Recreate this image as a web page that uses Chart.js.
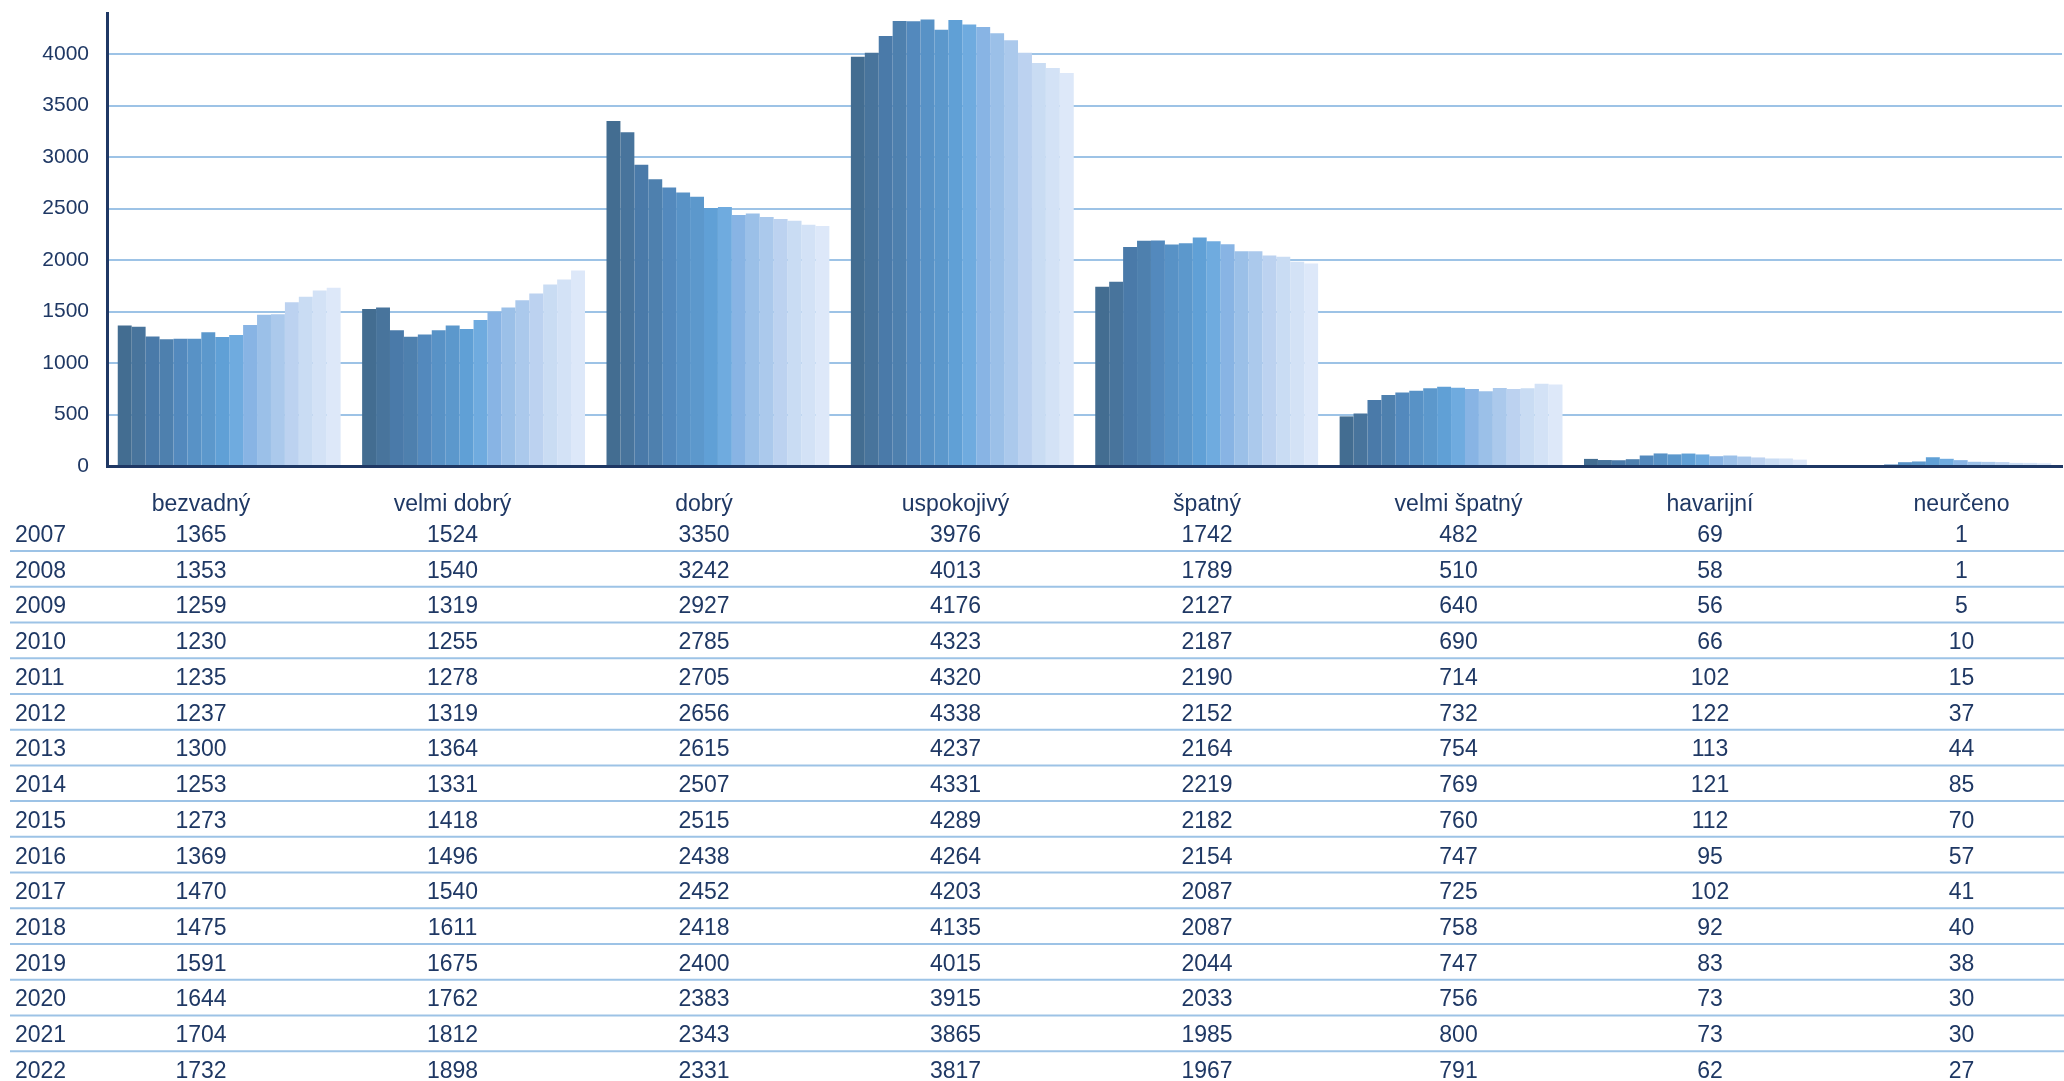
<!DOCTYPE html>
<html lang="cs">
<head>
<meta charset="utf-8">
<title>Stav mostů 2007–2022</title>
<script src="https://cdn.jsdelivr.net/npm/chart.js@4.4.1/dist/chart.umd.min.js"></script>
<style>
    html, body { margin: 0; padding: 0; background: #fff; overflow: hidden; }
    #wrap { position: relative; width: 2064px; height: 1081px; }
</style>
</head>
<body>
<div id="wrap"><canvas id="stavChart"></canvas></div>
<script>
        // kategorie stavu
        const categories = ['bezvadný', 'velmi dobrý', 'dobrý', 'uspokojivý', 'špatný', 'velmi špatný', 'havarijní', 'neurčeno'];
        const years = ['2007', '2008', '2009', '2010', '2011', '2012', '2013', '2014', '2015', '2016', '2017', '2018', '2019', '2020', '2021', '2022'];
        const yTicks = [0, 500, 1000, 1500, 2000, 2500, 3000, 3500, 4000];

        // hodnoty po kategoriich, roky 2007..2022
        const bezvadny = [1365, 1353, 1259, 1230, 1235, 1237, 1300, 1253, 1273, 1369, 1470, 1475, 1591, 1644, 1704, 1732];
        const velmiDobry = [1524, 1540, 1319, 1255, 1278, 1319, 1364, 1331, 1418, 1496, 1540, 1611, 1675, 1762, 1812, 1898];
        const dobry = [3350, 3242, 2927, 2785, 2705, 2656, 2615, 2507, 2515, 2438, 2452, 2418, 2400, 2383, 2343, 2331];
        const uspokojivy = [3976, 4013, 4176, 4323, 4320, 4338, 4237, 4331, 4289, 4264, 4203, 4135, 4015, 3915, 3865, 3817];
        const spatny = [1742, 1789, 2127, 2187, 2190, 2152, 2164, 2219, 2182, 2154, 2087, 2087, 2044, 2033, 1985, 1967];
        const velmiSpatny = [482, 510, 640, 690, 714, 732, 754, 769, 760, 747, 725, 758, 747, 756, 800, 791];
        const havarijni = [69, 58, 56, 66, 102, 122, 113, 121, 112, 95, 102, 92, 83, 73, 73, 62];
        const neurceno = [1, 1, 5, 10, 15, 37, 44, 85, 70, 57, 41, 40, 38, 30, 30, 27];

        const categoryValues = [bezvadny, velmiDobry, dobry, uspokojivy, spatny, velmiSpatny, havarijni, neurceno];

        const yearColors = ['#436d91', '#48749c', '#4a7aa9', '#4e80ae', '#5389bd', '#5892c6', '#5c98cc', '#60a0d6',
            '#6fabdf', '#88b4e4', '#9bc0e8', '#abc9ec', '#bcd2f0', '#c9dcf3', '#d3e2f6', '#dde8f9'];

        const navy = '#1f3864';
        const gridBlue = '#9dc3e6';
        const fontFamily = '"Liberation Sans", Arial, sans-serif';

        // tabulka pod grafem
        const tablePlugin = {
            id: 'tablePlugin',
            afterDraw(chart) {
                const ctx = chart.ctx;
                const colX = (k) => 201 + k * 251.5;
                const firstBase = 542;
                const rowH = 35.73;
                ctx.save();
                ctx.font = '23px ' + fontFamily;
                ctx.fillStyle = navy;
                ctx.textBaseline = 'alphabetic';

                ctx.textAlign = 'center';
                categories.forEach((c, k) => ctx.fillText(c, colX(k), 511));

                years.forEach((y, i) => {
                    const base = firstBase + i * rowH;
                    ctx.textAlign = 'left';
                    ctx.fillText(y, 15, base);
                    ctx.textAlign = 'center';
                    categoryValues.forEach((vals, k) => ctx.fillText(String(vals[i]), colX(k), base));
                    if (i < years.length - 1) {
                        ctx.strokeStyle = gridBlue;
                        ctx.lineWidth = 2;
                        ctx.beginPath();
                        ctx.moveTo(10, base + 9);
                        ctx.lineTo(2064, base + 9);
                        ctx.stroke();
                    }
                });
                ctx.restore();
            }
        };

        const datasets = years.map((y, i) => ({
            label: y,
            data: categoryValues.map(vals => vals[i]),
            backgroundColor: yearColors[i],
            borderWidth: 0,
            barPercentage: 1,
            categoryPercentage: 0.912
        }));

        new Chart(document.getElementById('stavChart'), {
            type: 'bar',
            data: { labels: categories, datasets: datasets },
            options: {
                responsive: true,
                maintainAspectRatio: false,
                animation: false,
                devicePixelRatio: 1,
                layout: { padding: { top: 13, right: 2, bottom: 615, left: 0 } },
                plugins: {
                    legend: { display: false },
                    tooltip: { enabled: false }
                },
                scales: {
                    x: {
                        ticks: { display: false },
                        grid: { display: false, drawTicks: false },
                        border: { display: true, color: navy, width: 3, z: 1 },
                        afterFit(scale) { scale.height = 0; }
                    },
                    y: {
                        min: 0,
                        max: 4400,
                        afterBuildTicks(scale) { scale.ticks = yTicks.map(v => ({ value: v })); },
                        ticks: {
                            padding: 0,
                            color: navy,
                            font: { family: fontFamily, size: 21 },
                            callback: (v) => String(v)
                        },
                        // neviditelne znacky jen posunou popisky od osy
                        grid: { color: gridBlue, lineWidth: 2, drawTicks: true, tickLength: 18, tickColor: 'rgba(0,0,0,0)' },
                        border: { display: true, color: navy, width: 3, z: 1 },
                        afterFit(scale) { scale.width = 107; }
                    }
                }
            },
            plugins: [tablePlugin]
        });
</script>
</body>
</html>
